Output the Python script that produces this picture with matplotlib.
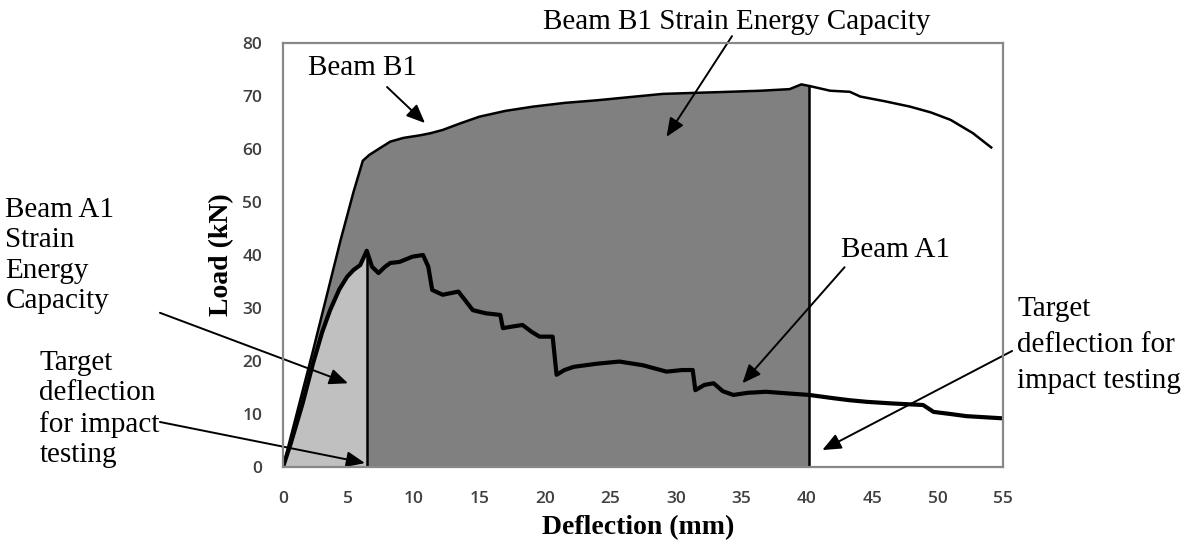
"""
Load-deflection curves for beams A1 and B1, with the strain energy
capacity of each beam shaded up to its target deflection.
"""
import numpy as np
import matplotlib.pyplot as plt

# Beam B1 (thin line), deflection in mm, load in kN
b1_defl = [0, 2.3, 4.4, 5.4, 6.1, 6.6, 7.3, 8.2, 9.2, 10.5, 11.3, 12.2, 13.5,
           15.0, 17.0, 19.1, 21.5, 24.0, 26.5, 29.0, 31.5, 34.1, 36.5, 38.7,
           39.6, 40.2, 41.8, 43.3, 44.1, 46.0, 47.9, 49.5, 51.0, 52.7, 54.1]
b1_load = [0, 22.0, 42.8, 52.0, 57.8, 58.9, 60.0, 61.4, 62.1, 62.6, 63.0, 63.6,
           64.8, 66.1, 67.2, 68.0, 68.7, 69.2, 69.8, 70.4, 70.6, 70.8, 71.0,
           71.3, 72.2, 71.9, 71.0, 70.8, 69.9, 69.0, 68.0, 66.9, 65.5, 63.0,
           60.3]

# Beam A1 (thick line)
a1_defl = [0, 0.6, 1.5, 2.3, 3.0, 3.6, 4.3, 4.9, 5.4, 5.9, 6.4, 6.8, 7.3, 7.8,
           8.2, 8.9, 9.9, 10.7, 11.1, 11.4, 12.2, 13.4, 14.0, 14.5, 15.5, 16.6,
           16.8, 17.5, 18.3, 19.0, 19.6, 20.6, 20.9, 21.5, 22.2, 24.0, 25.7,
           27.5, 29.3, 30.5, 31.3, 31.5, 32.2, 32.9, 33.6, 34.4, 35.5, 36.9,
           38.5, 40.2, 42.0, 43.3, 44.6, 46.5, 48.9, 49.7, 51.0, 52.2, 54.9]
a1_load = [0, 4.5, 12.0, 19.6, 25.5, 29.6, 33.5, 35.9, 37.2, 38.1, 40.8, 37.8,
           36.6, 37.8, 38.5, 38.7, 39.7, 40.0, 37.8, 33.4, 32.5, 33.1, 31.2,
           29.6, 29.0, 28.7, 26.2, 26.5, 26.8, 25.5, 24.6, 24.6, 17.4, 18.3,
           18.9, 19.5, 19.9, 19.2, 18.0, 18.3, 18.3, 14.5, 15.5, 15.8, 14.3,
           13.6, 14.0, 14.2, 13.9, 13.6, 13.0, 12.6, 12.3, 12.0, 11.7, 10.4,
           10.0, 9.6, 9.2]

# target deflections for impact testing (mm)
a1_target = 6.4
b1_target = 40.2

x_ticks = list(range(0, 56, 5))
y_ticks = list(range(0, 81, 10))

SERIF = 'Liberation Serif'
NOTE_SIZE = 21
ARROW = dict(arrowstyle='-|>,head_length=0.75,head_width=0.32',
             color='black', lw=1.4, mutation_scale=15,
             shrinkA=0, shrinkB=0)


def plot_curves(ax):
    """
    Shades the strain energy areas and draws both load-deflection curves.
    """
    bx, by = np.array(b1_defl), np.array(b1_load)
    axx, ay = np.array(a1_defl), np.array(a1_load)

    ax.fill_between(bx, 0, by, where=bx <= b1_target, color='#808080',
                    lw=0, zorder=1)
    ax.fill_between(axx, 0, ay, where=axx <= a1_target, color='#c0c0c0',
                    lw=0, zorder=2)

    ax.plot(bx, by, color='black', lw=1.8, zorder=4)
    ax.plot(axx, ay, color='black', lw=3.0, zorder=4)

    ax.vlines(a1_target, 0, ay[axx == a1_target][0], color='black', lw=1.8,
              zorder=3)
    ax.vlines(b1_target, 0, by[bx == b1_target][0], color='black', lw=1.8,
              zorder=3)


def style_axes(ax):
    ax.set_xlim(0, 55)
    ax.set_ylim(0, 80)
    ax.set_xticks(x_ticks)
    ax.set_yticks(y_ticks)
    ax.tick_params(axis='both', length=0, labelsize=12.5, labelcolor='#404040')
    ax.tick_params(axis='x', pad=17)
    ax.tick_params(axis='y', pad=15)
    for lab in ax.get_xticklabels() + ax.get_yticklabels():
        lab.set_fontfamily('Open Sans')
        lab.set_fontweight('semibold')
    for spine in ax.spines.values():
        spine.set_color('#888888')
        spine.set_linewidth(1.6)
        spine.set_zorder(5)

    ax.set_xlabel('Deflection (mm)', fontsize=20, fontweight='bold',
                  fontfamily=SERIF)
    ax.xaxis.set_label_coords(0.493, -0.113)
    ax.set_ylabel('Load (kN)', fontsize=20, fontweight='bold',
                  fontfamily=SERIF)
    ax.yaxis.set_label_coords(-0.068, 0.5)


def add_notes(ax):
    """
    Labels and arrows, positioned in data units.
    """
    kw = dict(annotation_clip=False, arrowprops=ARROW)
    txt = dict(fontsize=NOTE_SIZE, fontfamily=SERIF, clip_on=False)

    ax.annotate('', xy=(10.85, 64.9), xytext=(7.95, 71.7), **kw)
    ax.text(6.1, 75.3, 'Beam B1', ha='center', va='center', **txt)

    ax.annotate('', xy=(29.3, 62.3), xytext=(34.3, 81.3), **kw)
    ax.text(34.7, 84.0, 'Beam B1 Strain Energy Capacity', ha='center',
            va='center', **txt)

    ax.annotate('', xy=(4.97, 15.8), xytext=(-9.4, 29.1), **kw)
    ax.text(-21.2, 39.9, 'Beam A1\nStrain\nEnergy\nCapacity', ha='left',
            va='center', linespacing=1.22, **txt)

    ax.annotate('', xy=(6.26, 0.75), xytext=(-9.4, 8.5), **kw)
    ax.text(-18.6, 10.9, 'Target\ndeflection\nfor impact\ntesting',
            ha='left', va='center', linespacing=1.22, **txt)

    ax.annotate('', xy=(35.1, 15.8), xytext=(42.9, 37.7), **kw)
    ax.text(46.8, 40.9, 'Beam A1', ha='center', va='center', **txt)

    ax.annotate('', xy=(41.2, 3.2), xytext=(55.7, 21.9), **kw)
    ax.text(56.1, 23.0, 'Target\ndeflection for\nimpact testing',
            ha='left', va='center', linespacing=1.5, **txt)


def main():
    fig = plt.figure(figsize=(11.96, 5.44), dpi=100)
    ax = fig.add_axes([0.2366, 0.1415, 0.602, 0.7794])
    plot_curves(ax)
    style_axes(ax)
    add_notes(ax)
    fig.savefig('out.png', dpi=100)


if __name__ == '__main__':
    main()
